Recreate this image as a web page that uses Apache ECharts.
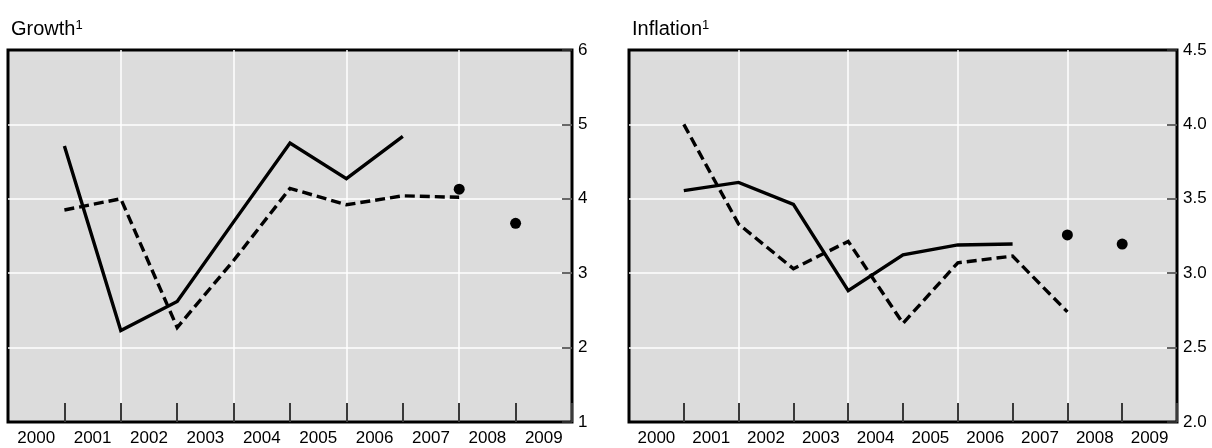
<!DOCTYPE html>
<html><head><meta charset="utf-8">
<script src="https://cdn.jsdelivr.net/npm/echarts@6/dist/echarts.min.js"></script>
<style>html,body{margin:0;padding:0;background:#fff}#c{width:1212px;height:448px}</style>
</head><body><div id="c"></div>
<script>
// Category labels
const years = ['2000','2001','2002','2003','2004','2005','2006','2007','2008','2009'];
// Line points sit on the boundaries between year bands; first point at the 2000/2001 boundary
const firstPointPos = 2001;
// Growth panel
const growthSolid  = [4.71, 2.23, 2.62, 3.69, 4.75, 4.27, 4.84];
const growthDashed = [3.85, 4.00, 2.27, 3.17, 4.14, 3.92, 4.04, 4.02];
const growthDotPos = [2008, 2009];
const growthDots   = [4.13, 3.67];
const growthTicks  = ['1', '2', '3', '4', '5', '6'];
// Inflation panel
const inflSolid  = [3.555, 3.61, 3.463, 2.883, 3.124, 3.19, 3.196];
const inflDashed = [4.00, 3.33, 3.03, 3.214, 2.663, 3.07, 3.115, 2.74];
const inflDotPos = [2008, 2009];
const inflDots   = [3.257, 3.196];
const inflTicks  = ['2.0','2.5','3.0','3.5','4.0','4.5'];

const FONT = 'Liberation Sans, Arial, sans-serif';
const pairs = (vals) => vals.map((v, i) => [firstPointPos + i, v]);
const zip = (xs, ys) => xs.map((x, i) => [x, ys[i]]);

const grids = [
  {left: 8, right: 640, top: 50, bottom: 26},
  {left: 629, right: 35, top: 50, bottom: 26}
];
const gridOpts = grids.map(g => Object.assign({
  show: true, backgroundColor: '#dcdcdc', borderColor: '#000', borderWidth: 3, containLabel: false
}, g));

function catAxis(gi) {
  return {
    type: 'category', gridIndex: gi, data: years, boundaryGap: true, position: 'bottom',
    axisLine: {show: false},
    axisTick: {show: true, inside: true, length: 19, interval: (i) => i !== 0,
      lineStyle: {color: '#3a3a3a', width: 2}},
    axisLabel: {show: true, margin: 8, color: '#000', fontSize: 17, fontFamily: FONT},
    splitLine: {show: false}
  };
}
function valXAxis(gi) {
  return {
    type: 'value', gridIndex: gi, min: 2000, max: 2010, interval: 2, position: 'top',
    axisLine: {show: false}, axisTick: {show: false}, axisLabel: {show: false},
    splitLine: {show: true, showMinLine: false, showMaxLine: false, lineStyle: {color: '#fff', width: 1.5}}
  };
}
function yAxis(gi, ticks) {
  const mn = parseFloat(ticks[0]), mx = parseFloat(ticks[ticks.length - 1]);
  const iv = parseFloat(ticks[1]) - mn;
  return {
    type: 'value', gridIndex: gi, position: 'right', min: mn, max: mx, interval: iv,
    axisLine: {show: false},
    axisTick: {show: true, inside: true, length: 10, lineStyle: {color: '#3a3a3a', width: 1.5}},
    axisLabel: {show: true, margin: 6, color: '#000', fontSize: 17, fontFamily: FONT,
      formatter: (v) => iv < 1 ? v.toFixed(1) : String(v)},
    splitLine: {show: true, showMinLine: false, showMaxLine: false, lineStyle: {color: '#fff', width: 1.5}}
  };
}
function lineSeries(xi, yi, data, dashed) {
  return {
    type: 'line', xAxisIndex: xi, yAxisIndex: yi, data: data, showSymbol: false, symbol: 'none',
    lineStyle: {color: '#000', width: 3.4, type: dashed ? [10, 5] : 'solid', join: 'miter', opacity: 1},
    silent: true, z: 3
  };
}
function dotSeries(xi, yi, data) {
  return {
    type: 'scatter', xAxisIndex: xi, yAxisIndex: yi, data: data, symbol: 'circle', symbolSize: 11,
    itemStyle: {color: '#000', opacity: 1}, silent: true, z: 4
  };
}
const titleRich = {sup: {fontSize: 13, verticalAlign: 'top', lineHeight: 10, fontFamily: FONT, color: '#000'}};

const option = {
  animation: false,
  backgroundColor: '#fff',
  title: [
    {text: 'Growth{sup|1}', left: 6, top: 14, textStyle: {fontSize: 20, fontWeight: 'normal', color: '#000', fontFamily: FONT, rich: titleRich}},
    {text: 'Inflation{sup|1}', left: 627, top: 14, textStyle: {fontSize: 20, fontWeight: 'normal', color: '#000', fontFamily: FONT, rich: titleRich}}
  ],
  grid: gridOpts,
  xAxis: [catAxis(0), valXAxis(0), catAxis(1), valXAxis(1)],
  yAxis: [yAxis(0, growthTicks), yAxis(1, inflTicks)],
  series: [
    lineSeries(1, 0, pairs(growthSolid), false),
    lineSeries(1, 0, pairs(growthDashed), true),
    dotSeries(1, 0, zip(growthDotPos, growthDots)),
    lineSeries(3, 1, pairs(inflSolid), false),
    lineSeries(3, 1, pairs(inflDashed), true),
    dotSeries(3, 1, zip(inflDotPos, inflDots))
  ]
};
const chart = echarts.init(document.getElementById('c'), null, {renderer: 'canvas'});
chart.setOption(option);
</script></body></html>
